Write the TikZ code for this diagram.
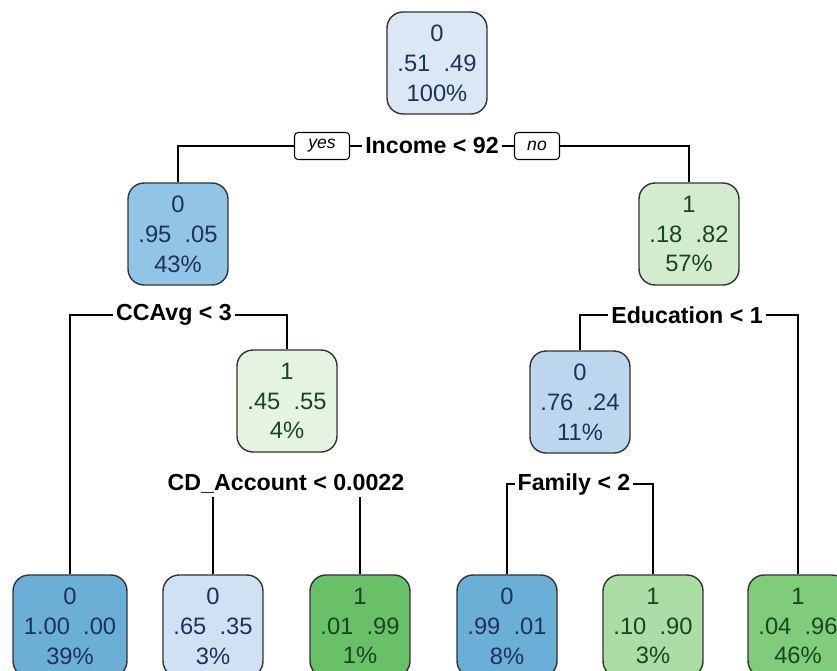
\documentclass[tikz,border=0pt]{standalone}
\usepackage{fontspec}
\setmainfont{Liberation Sans}
\usetikzlibrary{positioning}
\definecolor{fRoot}{RGB}{220,231,245}
\definecolor{fL}{RGB}{145,196,230}
\definecolor{fR}{RGB}{210,236,205}
\definecolor{fLR}{RGB}{229,243,225}
\definecolor{fRL}{RGB}{190,213,238}
\definecolor{fBlueDeep}{RGB}{107,174,214}
\definecolor{fBluePale}{RGB}{208,225,243}
\definecolor{fGreenDeep}{RGB}{106,191,105}
\definecolor{fGreenPale}{RGB}{172,221,164}
\definecolor{fGreenMid}{RGB}{128,204,122}
\definecolor{tBlue}{RGB}{30,50,90}
\definecolor{tGreen}{RGB}{25,70,30}

\begin{document}
\begin{tikzpicture}[x=0.02cm,y=-0.02cm,
	box/.style={draw=black!80,line width=0.8pt,rounded corners=0.32cm,align=center,
		minimum width=2cm,minimum height=2.04cm,font=\fontsize{13.5}{17}\selectfont},
	split/.style={fill=white,inner sep=1.5pt,font=\bfseries\fontsize{13.2}{15}\selectfont},
	tag/.style={draw,fill=white,rounded corners=2pt,line width=0.6pt,minimum height=0.54cm,
		inner sep=1pt,font=\itshape\fontsize{10}{11}\selectfont},
	branch/.style={line width=0.7pt}]
		\useasboundingbox (0,0) rectangle (837,670);
		%Nodes
		\node[box,fill=fRoot,text=tBlue] (root) at (437,63) {0\\.51\ \ .49\\100\%};
		\node[box,fill=fL,text=tBlue] (nL) at (178,234) {0\\.95\ \ .05\\43\%};
		\node[box,fill=fR,text=tGreen] (nR) at (689,234) {1\\.18\ \ .82\\57\%};
		\node[box,fill=fLR,text=tGreen] (nLR) at (287,401) {1\\.45\ \ .55\\4\%};
		\node[box,fill=fRL,text=tBlue] (nRL) at (580,402) {0\\.76\ \ .24\\11\%};
		%Leaves
		\node[box,fill=fBlueDeep,text=tBlue,minimum width=2.28cm] (lf1) at (70,626) {0\\1.00\ \ .00\\39\%};
		\node[box,fill=fBluePale,text=tBlue] (lf2) at (213,626) {0\\.65\ \ .35\\3\%};
		\node[box,fill=fGreenDeep,text=tGreen] (lf3) at (360,626) {1\\.01\ \ .99\\1\%};
		\node[box,fill=fBlueDeep,text=tBlue] (lf4) at (507,626) {0\\.99\ \ .01\\8\%};
		\node[box,fill=fGreenPale,text=tGreen] (lf5) at (653,626) {1\\.10\ \ .90\\3\%};
		\node[box,fill=fGreenMid,text=tGreen] (lf6) at (798,626) {1\\.04\ \ .96\\46\%};
		%Splits
		\node[split] (income) at (432,146) {Income < 92};
		\node[tag,minimum width=1.1cm] (yes) at (322,146) {yes};
		\node[tag,minimum width=0.9cm] (no) at (537,146) {no};
		\node[split] (ccavg) at (174,315) {CCAvg < 3};
		\node[split] (educ) at (687,315) {Education < 1};
		\node[split] (cdacc) at (286,484) {CD\_Account < 0.0022};
		\node[split] (family) at (574,484) {Family < 2};
		%Branches
		\draw[branch] (nL.north) |- (yes.west);
		\draw[branch] (yes.east) -- (income.west);
		\draw[branch] (income.east) -- (no.west);
		\draw[branch] (no.east) -| (nR.north);
		\draw[branch] (lf1.north) |- (ccavg.west);
		\draw[branch] (ccavg.east) -| (nLR.north);
		\draw[branch] (lf2.north) -- (lf2.north |- cdacc.south);
		\draw[branch] (lf3.north) -- (lf3.north |- cdacc.south);
		\draw[branch] (nRL.north) |- (educ.west);
		\draw[branch] (educ.east) -| (lf6.north);
		\draw[branch] (lf4.north) |- (family.west);
		\draw[branch] (family.east) -| (lf5.north);
\end{tikzpicture}
\end{document}
